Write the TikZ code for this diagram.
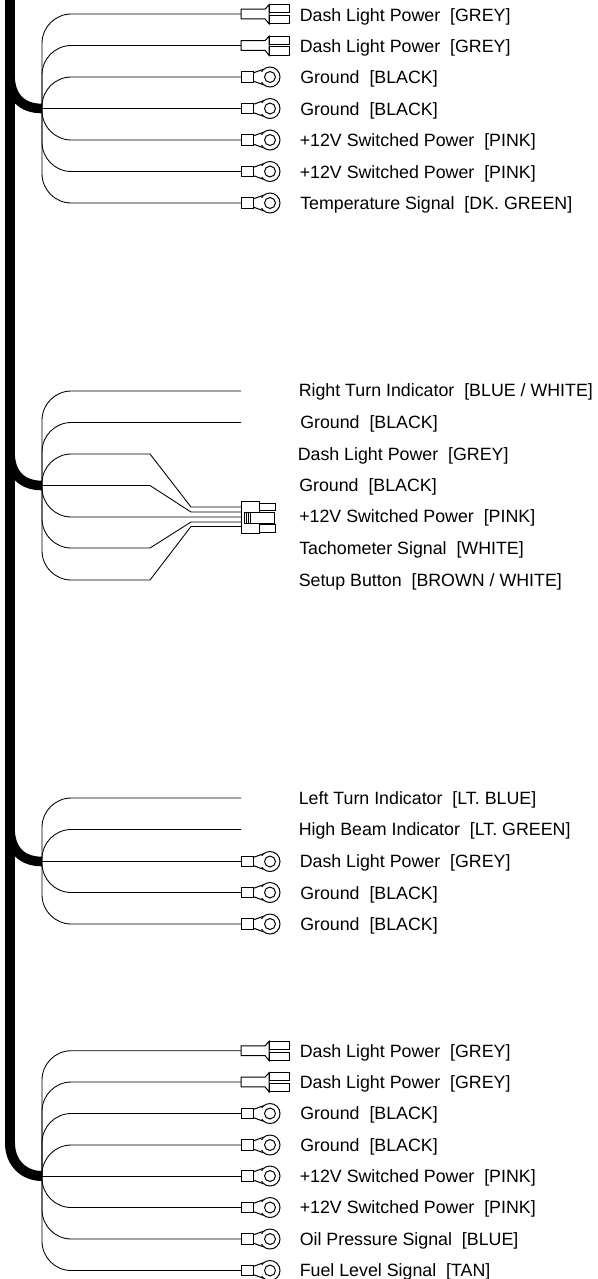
\documentclass[tikz,border=0pt]{standalone}
\usepackage{fontspec}
\setmainfont{Liberation Sans}
\newcommand{\gap}{~~}
\tikzset{
  x=0.75pt,y=-0.75pt,
  bus/.style={line width=7.5pt,black},
  branch/.style={line width=7.2pt,black},
  wire/.style={line width=0.65pt,black,rounded corners=22pt},
  straightwire/.style={line width=0.65pt,black},
  part/.style={line width=0.75pt,black,fill=white},
  lab/.style={anchor=base west,inner sep=0pt,font=\fontsize{13.35pt}{15pt}\selectfont,text=black},
  ringterm/.pic={
    \draw[part] (12,-4) -- (22,-7.6) -- (22,7.6) -- (12,4) -- cycle;
    \draw[part] (0,-5.2) rectangle (12,5.2);
    \draw[part] (29,0) circle (7.5pt);
    \draw[draw=none,fill=white] (18,-5.4) rectangle (22,5.4);
    \draw[part] (29,0) circle (4.1pt);
  },
  spadeterm/.pic={
    \draw[part] (0,-4.8) -- (24,-4.8) -- (28,-9.2) -- (28,9.8) -- (24,4.8) -- (0,4.8) -- cycle;
    \draw[part] (28,-9.2) rectangle (48,-1.2);
    \draw[part] (28,1.4) rectangle (48,9.8);
  }
}
\begin{document}
\begin{tikzpicture}
\useasboundingbox (0,0) rectangle (597,1279);
% main harness
\coordinate (top) at (10,0);
\coordinate (s1) at (10,75);
\coordinate (s2) at (10,452);
\coordinate (s3) at (10,828);
\coordinate (s4) at (10,1143);
\coordinate (j1) at (42,108.5);
\coordinate (j2) at (42,485.5);
\coordinate (j3) at (42,861.5);
\coordinate (j4) at (42,1176);
\draw[bus] (top) -- (s4);
\draw[branch] (s1) .. controls (10,97) and (22,108.5) .. (j1);
\draw[branch] (s2) .. controls (10,474) and (22,485.5) .. (j2);
\draw[branch] (s3) .. controls (10,850) and (22,861.5) .. (j3);
\draw[bus] (s4) .. controls (10,1163) and (24,1176) .. (j4);

% group 1
\foreach \n/\y in {1/14,2/45.5,3/77,5/140,6/171.5,7/203}
  {\coordinate (a\n) at (241,\y); \draw[wire] (j1) |- (a\n);}
\coordinate (a4) at (241,108.5); \draw[straightwire] (j1) -- (a4);
\path (a1) pic {spadeterm} (a2) pic {spadeterm};
\foreach \n in {3,...,7} \path (a\n) pic {ringterm};
\node[lab] (la1) at (299.5,21) {Dash Light Power\gap[GREY]};
\node[lab] (la2) at (299.5,52) {Dash Light Power\gap[GREY]};
\node[lab] (la3) at (300,83.5) {Ground\gap[BLACK]};
\node[lab] (la4) at (300,115) {Ground\gap[BLACK]};
\node[lab] (la5) at (299.5,146.5) {+12V Switched Power\gap[PINK]};
\node[lab] (la6) at (299.5,178) {+12V Switched Power\gap[PINK]};
\node[lab] (la7) at (300,209.5) {Temperature Signal\gap[DK. GREEN]};

% group 2
\coordinate (b1) at (241,391);
\coordinate (b2) at (241,422.5);
\draw[wire] (j2) |- (b1);
\draw[wire] (j2) |- (b2);
\coordinate (k3) at (150,454);
\coordinate (k4) at (150,485.5);
\coordinate (k6) at (150,548);
\coordinate (k7) at (150,580);
\coordinate (m3) at (191,507);
\coordinate (m4) at (191,512);
\coordinate (m6) at (191,522);
\coordinate (m7) at (191,526.5);
\coordinate (p3) at (241,507);
\coordinate (p4) at (241,512);
\coordinate (p5) at (241,517);
\coordinate (p6) at (241,522);
\coordinate (p7) at (241,526.5);
\draw[wire] (j2) |- (k3);
\draw[straightwire] (k3) -- (m3) -- (p3);
\draw[straightwire] (j2) -- (k4) -- (m4) -- (p4);
\draw[wire] (j2) |- (p5);
\draw[wire] (j2) |- (k6);
\draw[straightwire] (k6) -- (m6) -- (p6);
\draw[wire] (j2) |- (k7);
\draw[straightwire] (k7) -- (m7) -- (p7);
% plug
\draw[part] (259,503) rectangle (275,510.5);
\draw[part] (259,524) rectangle (275,532);
\draw[part] (241,501) rectangle (259,533);
\draw[part] (244,512) rectangle (274,523);
\draw[part,fill=none] (246,512) -- (246,523) (248,512) -- (248,523) (250,512) -- (250,523);
\node[lab] (lb1) at (298.5,396.5) {Right Turn Indicator\gap[BLUE / WHITE]};
\node[lab] (lb2) at (300,428) {Ground\gap[BLACK]};
\node[lab] (lb3) at (297.5,460) {Dash Light Power\gap[GREY]};
\node[lab] (lb4) at (299,491.5) {Ground\gap[BLACK]};
\node[lab] (lb5) at (299,522.5) {+12V Switched Power\gap[PINK]};
\node[lab] (lb6) at (299,554) {Tachometer Signal\gap[WHITE]};
\node[lab] (lb7) at (298.5,586) {Setup Button\gap[BROWN / WHITE]};

% group 3
\coordinate (c1) at (241,798);
\coordinate (c2) at (241,829.5);
\coordinate (c3) at (241,861.5);
\coordinate (c4) at (241,892.5);
\coordinate (c5) at (241,924);
\draw[wire] (j3) |- (c1);
\draw[wire] (j3) |- (c2);
\draw[straightwire] (j3) -- (c3);
\draw[wire] (j3) |- (c4);
\draw[wire] (j3) |- (c5);
\foreach \n in {3,4,5} \path (c\n) pic {ringterm};
\node[lab] (lc1) at (298.5,804) {Left Turn Indicator\gap[LT. BLUE]};
\node[lab] (lc2) at (298.5,835) {High Beam Indicator\gap[LT. GREEN]};
\node[lab] (lc3) at (299.5,867.5) {Dash Light Power\gap[GREY]};
\node[lab] (lc4) at (300,899) {Ground\gap[BLACK]};
\node[lab] (lc5) at (300,930.5) {Ground\gap[BLACK]};

% group 4
\foreach \n/\y in {1/1050.7,2/1082,3/1113.5,4/1145,6/1207.5,7/1239,8/1270.5}
  {\coordinate (d\n) at (241,\y); \draw[wire] (j4) |- (d\n);}
\coordinate (d5) at (241,1176); \draw[straightwire] (j4) -- (d5);
\path (d1) pic {spadeterm} (d2) pic {spadeterm};
\foreach \n in {3,...,8} \path (d\n) pic {ringterm};
\node[lab] (ld1) at (299.5,1057) {Dash Light Power\gap[GREY]};
\node[lab] (ld2) at (299.5,1088.5) {Dash Light Power\gap[GREY]};
\node[lab] (ld3) at (300,1119.5) {Ground\gap[BLACK]};
\node[lab] (ld4) at (300,1151) {Ground\gap[BLACK]};
\node[lab] (ld5) at (299.5,1182.5) {+12V Switched Power\gap[PINK]};
\node[lab] (ld6) at (299.5,1213.5) {+12V Switched Power\gap[PINK]};
\node[lab] (ld7) at (299.5,1245) {Oil Pressure Signal\gap[BLUE]};
\node[lab] (ld8) at (299.5,1276.5) {Fuel Level Signal\gap[TAN]};
\end{tikzpicture}
\end{document}
